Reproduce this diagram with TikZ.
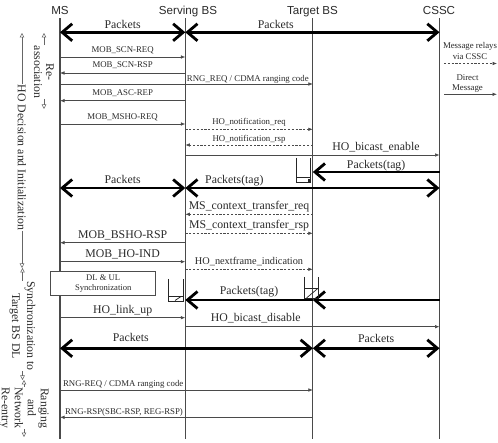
\documentclass[tikz,border=0pt]{standalone}
\usepackage{fontspec}
\setmainfont{Liberation Serif}
\newfontfamily\hdrfont{Liberation Sans}
\usetikzlibrary{arrows.meta}
\definecolor{ink}{HTML}{2A2A2A}
\definecolor{linec}{HTML}{4A4A4A}
\begin{document}
\begin{tikzpicture}[x=1pt,y=-1pt,
  life/.style={draw=linec, line width=1.1pt},
  msg/.style={draw=linec, line width=0.65pt, -{Latex[length=4.5pt,width=3.6pt]}},
  dmsg/.style={msg, dash pattern=on 2.2pt off 1.6pt},
  pk/.style={draw=black, line width=2.8pt, {Straight Barb[length=10pt,width=17pt]}-{Straight Barb[length=10pt,width=17pt]}},
  pkr/.style={draw=black, line width=2.8pt, -{Straight Barb[length=10pt,width=17pt]}},
  sm/.style={font=\fontsize{8.8}{10}\selectfont, text=ink, inner sep=0pt, anchor=base},
  md/.style={font=\fontsize{10.3}{12}\selectfont, text=ink, inner sep=0pt, anchor=base},
  lg/.style={font=\fontsize{11.8}{13}\selectfont, text=ink, inner sep=0pt, anchor=base},
  hdr/.style={font=\hdrfont\fontsize{11.6}{13}\selectfont, text=ink, inner sep=0pt, anchor=base},
  side/.style={font=\fontsize{11.8}{12}\selectfont, text=ink, rotate=-90, align=center, inner sep=0.5pt},
  sidearr/.style={draw=black!60, line width=0.5pt, -{Triangle[open,length=4.5pt,width=4.5pt]}},
  buf/.style={draw=black!85, line width=0.9pt},
]
\fill[white] (0,0) rectangle (498,443);
\useasboundingbox (0,0) rectangle (498,443);

% headers and lifelines
\node[hdr] (hMS) at (60,15) {MS};
\node[hdr] (hSBS) at (188,15) {Serving BS};
\node[hdr] (hTBS) at (312.5,15) {Target BS};
\node[hdr] (hCSSC) at (439,15) {CSSC};
\coordinate (MS) at (60,18.5);   \coordinate (MSb) at (60,438.5);
\coordinate (SBS) at (185.3,18.5); \coordinate (SBSb) at (185.3,438.5);
\coordinate (TBS) at (312.8,18.5); \coordinate (TBSb) at (312.8,438.5);
\coordinate (CSSC) at (439.5,18.5); \coordinate (CSSCb) at (439.5,438.5);
\draw[life] (MS) -- (MSb);
\draw[life] (SBS) -- (SBSb);
\draw[life] (TBS) -- (TBSb);
\draw[life] (CSSC) -- (CSSCb);

% messages
\draw[pk] (MS |- 0,32.3) -- node[lg, yshift=3.3pt]{Packets} (SBS |- 0,32.3);
\draw[pk] (SBS |- 0,32.3) -- node[lg, pos=0.356, yshift=3.3pt]{Packets} (CSSC |- 0,32.3);
\draw[msg] (MS |- 0,57) -- node[sm, yshift=4pt]{MOB\_SCN-REQ} (SBS |- 0,57);
\draw[msg] (SBS |- 0,73) -- node[sm, yshift=5pt]{MOB\_SCN-RSP} (MS |- 0,73);
\draw[msg] (MS |- 0,84) -- node[sm, pos=0.743, yshift=2pt]{RNG\_REQ / CDMA ranging code} (TBS |- 0,84);
\draw[msg] (SBS |- 0,100.7) -- node[sm, yshift=4.7pt]{MOB\_ASC-REP} (MS |- 0,100.7);
\draw[msg] (MS |- 0,124) -- node[sm, yshift=4.5pt]{MOB\_MSHO-REQ} (SBS |- 0,124);
\draw[dmsg] (SBS |- 0,129.3) -- node[sm, yshift=4.8pt]{HO\_notification\_req} (TBS |- 0,129.3);
\draw[dmsg] (TBS |- 0,145) -- node[sm, yshift=3pt]{HO\_notification\_rsp} (SBS |- 0,145);
\draw[msg] (SBS |- 0,155) -- node[lg, pos=0.75, yshift=4pt]{HO\_bicast\_enable} (CSSC |- 0,155);
\draw[pkr] (CSSC |- 0,172) -- node[lg, yshift=3pt]{Packets(tag)} (TBS |- 0,172);
\draw[pk] (MS |- 0,188) -- node[lg, yshift=4pt]{Packets} (SBS |- 0,188);
\draw[pk] (SBS |- 0,188) -- node[lg, pos=0.193, yshift=4pt]{Packets(tag)} (CSSC |- 0,188);
\draw[dmsg] (TBS |- 0,214.3) -- node[lg, yshift=4.3pt]{MS\_context\_transfer\_req} (SBS |- 0,214.3);
\draw[dmsg] (SBS |- 0,233.3) -- node[lg, yshift=4.3pt]{MS\_context\_transfer\_rsp} (TBS |- 0,233.3);
\draw[msg] (SBS |- 0,242.7) -- node[lg, yshift=4.2pt]{MOB\_BSHO-RSP} (MS |- 0,242.7);
\draw[msg] (MS |- 0,261.7) -- node[lg, yshift=4.2pt]{MOB\_HO-IND} (SBS |- 0,261.7);
\draw[dmsg] (SBS |- 0,269.3) -- node[md, yshift=4.3pt]{HO\_nextframe\_indication} (TBS |- 0,269.3);
\draw[pkr] (CSSC |- 0,300) -- (TBS |- 0,300);
\draw[pkr] (TBS |- 0,300) -- node[lg, yshift=5pt]{Packets(tag)} (SBS |- 0,300);
\draw[msg] (MS |- 0,317.7) -- node[lg, yshift=4.2pt]{HO\_link\_up} (SBS |- 0,317.7);
\draw[msg] (SBS |- 0,326.7) -- node[lg, pos=0.277, yshift=5.2pt]{HO\_bicast\_disable} (CSSC |- 0,326.7);
\draw[pk] (MS |- 0,348.3) -- node[lg, pos=0.28, yshift=6.3pt]{Packets} (TBS |- 0,348.3);
\draw[pk] (TBS |- 0,348.3) -- node[lg, yshift=5.3pt]{Packets} (CSSC |- 0,348.3);
\draw[msg] (MS |- 0,390) -- node[sm, pos=0.25, yshift=3pt]{RNG-REQ / CDMA ranging code} (TBS |- 0,390);
\draw[msg] (TBS |- 0,417.3) -- node[sm, pos=0.747, yshift=2.8pt]{RNG-RSP(SBC-RSP, REG-RSP)} (MS |- 0,417.3);

% buffers
\draw[buf] (296,158) -- (296,182) -- (310,182) -- (310,158);
\draw[buf, line width=0.7pt] (296,177.5) -- (310,177.5);
\fill[black!85] (307.5,179.5) rectangle (310,182);
\draw[buf] (168,279) -- (168,301) -- (183,301) -- (183,279);
\draw[buf, line width=0.7pt] (168,296) -- (183,296);
\draw[buf, line width=0.7pt] (175,300.5) -- (181,296.5);
\draw[buf] (304.5,277) -- (304.5,298) -- (318,298) -- (318,277);
\draw[buf, line width=0.7pt] (304.5,288.3) -- (318,288.3);
\draw[buf, line width=0.7pt] (306.5,298) -- (318,288.3);

% DL & UL box
\node[draw=black!70, line width=0.6pt, fill=white, minimum width=105pt, minimum height=23.3pt, inner sep=0pt, align=center, font=\fontsize{8.6}{10}\selectfont, text=ink] (dlul) at (103.2,283.3) {DL \& UL\\Synchronization};

% legend
\node[sm, anchor=center, align=center, font=\fontsize{8.8}{10.5}\selectfont] (lgRelay) at (470,51) {Message relays\\via CSSC};
\coordinate (lgA1) at (444,63.5); \coordinate (lgA2) at (497,63.5);
\draw[dmsg] (lgA1) -- (lgA2);
\node[sm, anchor=center, align=center, font=\fontsize{8.8}{10}\selectfont] (lgDirect) at (467.5,84) {Direct\\Message};
\coordinate (lgB1) at (444,94.3); \coordinate (lgB2) at (497,94.3);
\draw[msg] (lgB1) -- (lgB2);

% side annotations
\node[side] (hod) at (22,157.5) {HO Decision and Initialization};
\coordinate (hodT) at (22,33); \coordinate (hodB) at (22,268);
\draw[sidearr] (hod.west) -- (hodT);
\draw[sidearr] (hod.east) -- (hodB);
\node[side] (rea) at (44,72) {Re-\\association};
\coordinate (reaT) at (44,33); \coordinate (reaB) at (44,109);
\draw[sidearr] (rea.west) -- (reaT);
\draw[sidearr] (rea.east) -- (reaB);
\node[side, font=\fontsize{11.8}{15}\selectfont] (syn) at (22.5,326) {Synchronization to\\Target BS DL};
\coordinate (synT) at (22.5,268); \coordinate (synB) at (22.5,380);
\draw[sidearr] (syn.west) -- (synT);
\draw[sidearr] (syn.east) -- (synB);
\node[side, font=\fontsize{11.8}{13}\selectfont] (rng) at (24,408) {Ranging\\and\\Network\\Re-entry};
\coordinate (rngT) at (24,380); \coordinate (rngB) at (24,437);
\draw[sidearr] (rng.west) -- (rngT);
\draw[sidearr] (rng.east) -- (rngB);
\end{tikzpicture}
\end{document}
